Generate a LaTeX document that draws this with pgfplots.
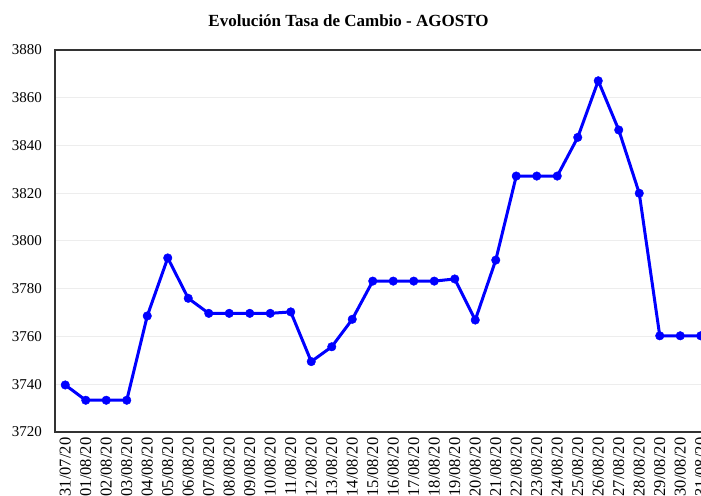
\documentclass[border=0pt]{standalone}
\usepackage{fontspec}
\setmainfont{Liberation Serif}
\usepackage{pgfplots}
\pgfplotsset{compat=1.18}
\begin{document}
\begin{tikzpicture}[x=1pt,y=1pt]
\begin{axis}[
  at={(55pt,63pt)}, anchor=south west,
  scale only axis, width=656pt, height=382pt,
  xmin=-0.5, xmax=31.5, ymin=3720, ymax=3880,
  ytick={3720,3740,...,3880},
  xtick={0,...,31},
  xticklabels={31/07/20,01/08/20,02/08/20,03/08/20,04/08/20,05/08/20,06/08/20,07/08/20,08/08/20,09/08/20,10/08/20,11/08/20,12/08/20,13/08/20,14/08/20,15/08/20,16/08/20,17/08/20,18/08/20,19/08/20,20/08/20,21/08/20,22/08/20,23/08/20,24/08/20,25/08/20,26/08/20,27/08/20,28/08/20,29/08/20,30/08/20,31/08/20},
  major tick length=0pt,
  /pgf/number format/assume math mode=true,
  /pgf/number format/1000 sep={},
  yticklabel style={font=\fontsize{15}{18}\selectfont, inner sep=0pt, xshift=-13pt},
  xticklabel style={font=\fontsize{16.5}{19}\selectfont, rotate=90, anchor=east, inner sep=5.5pt},
  ymajorgrids, xmajorgrids=false,
  major grid style={color=black!7, line width=1pt},
  axis line style={draw=black!80, line width=1.3pt},
  clip=false,
]
\addplot[color=blue, line width=3pt, line join=round, mark=*, mark size=4.3pt, mark options={fill=blue, draw=blue, line width=0.4pt}] coordinates {
(0,3739.7) (1,3733.3) (2,3733.3) (3,3733.3) (4,3768.6) (5,3792.9) (6,3776.0) (7,3769.7)
(8,3769.7) (9,3769.7) (10,3769.7) (11,3770.3) (12,3749.5) (13,3755.7) (14,3767.2) (15,3783.2)
(16,3783.2) (17,3783.2) (18,3783.2) (19,3784.1) (20,3766.9) (21,3792.0) (22,3827.2) (23,3827.2)
(24,3827.2) (25,3843.4) (26,3867.1) (27,3846.5) (28,3820.0) (29,3760.3) (30,3760.3) (31,3760.3)
};
\end{axis}
\node[font=\bfseries\fontsize{17}{20}\selectfont, inner sep=0pt] at (348.5,474.5) {Evolución Tasa de Cambio - AGOSTO};
\pgfresetboundingbox
\path[use as bounding box] (0,0) rectangle (701,495);
\end{tikzpicture}
\end{document}
